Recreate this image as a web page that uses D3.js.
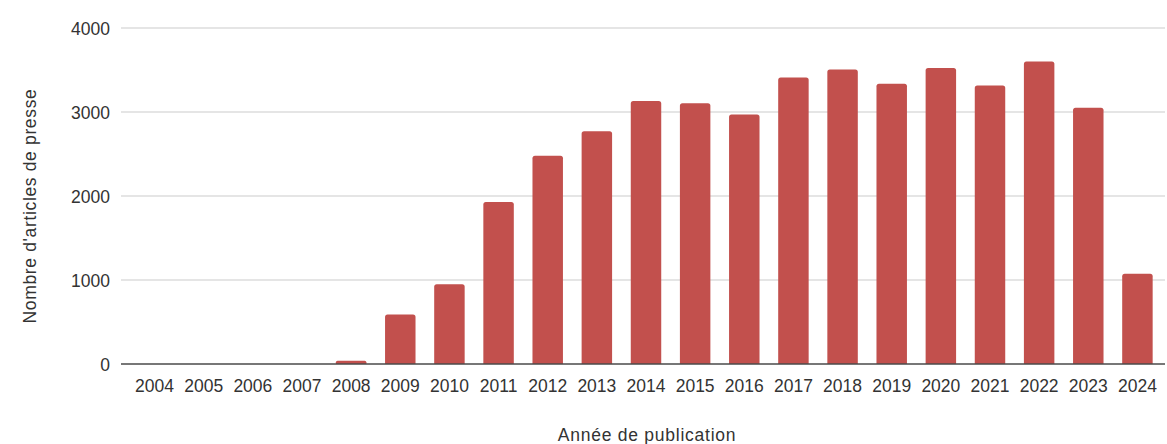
<!DOCTYPE html>
<html>
<head>
<meta charset="utf-8">
<script src="https://cdn.jsdelivr.net/npm/d3@7"></script>
<style>
  html, body { margin: 0; padding: 0; background: #fff; }
  svg { display: block; font-family: "Liberation Sans", Arial, sans-serif; }
</style>
</head>
<body>
<svg id="chart" width="1167" height="444"></svg>
<script>
// Press articles per publication year
const years = ["2004","2005","2006","2007","2008","2009","2010","2011","2012","2013","2014",
               "2015","2016","2017","2018","2019","2020","2021","2022","2023","2024"];
const articles = [0, 0, 0, 0, 40, 590, 950, 1930, 2480, 2770, 3130,
                  3105, 2970, 3410, 3505, 3335, 3525, 3315, 3600, 3050, 1075];
const yTicks = [0, 1000, 2000, 3000, 4000];

const svg = d3.select("#chart");
const W = 1167;
const fontSize = 17.5;
const textColor = "#333";

const x = d3.scaleBand().domain(years).range([130, 1162]).paddingInner(0.38).paddingOuter(0.19);
const y = d3.scaleLinear().domain([0, 4000]).range([364, 28]);

// horizontal grid
svg.append("g")
  .selectAll("line")
  .data(yTicks.filter(d => d > 0))
  .join("line")
  .attr("x1", 121).attr("x2", W - 2)
  .attr("y1", d => y(d)).attr("y2", d => y(d))
  .attr("stroke", "#dcdcdc").attr("stroke-width", 1.6);

// y tick labels
const yAxis = d3.axisLeft(y).tickValues(yTicks).tickSize(0).tickPadding(0).tickFormat(d3.format("d"));
const gy = svg.append("g").attr("transform", "translate(110,0)").call(yAxis);
gy.select(".domain").remove();
gy.selectAll("text").attr("font-size", fontSize).attr("fill", textColor).attr("dy", "0.36em")
  .attr("font-family", "'Liberation Sans', Arial, sans-serif");

// bars with softly rounded tops
const r = 2.5;
svg.append("g")
  .selectAll("path")
  .data(years.map((yr, i) => ({ yr, v: articles[i] })).filter(d => d.v > 0))
  .join("path")
  .attr("fill", "#c2504d")
  .attr("d", d => {
    const x0 = x(d.yr), w = x.bandwidth(), y0 = y(d.v), y1 = y(0);
    const rr = Math.min(r, (y1 - y0) / 2);
    return `M${x0},${y1}V${y0 + rr}Q${x0},${y0} ${x0 + rr},${y0}H${x0 + w - rr}Q${x0 + w},${y0} ${x0 + w},${y0 + rr}V${y1}Z`;
  });

// baseline
svg.append("line")
  .attr("x1", 121).attr("x2", W - 2)
  .attr("y1", y(0)).attr("y2", y(0))
  .attr("stroke", "#4a4a4a").attr("stroke-width", 1.4);

// x tick labels
const xAxis = d3.axisBottom(x).tickSize(0).tickPadding(0);
const gx = svg.append("g").attr("transform", `translate(0,${y(0)})`).call(xAxis);
gx.select(".domain").remove();
gx.selectAll("text").attr("font-size", fontSize).attr("fill", textColor).attr("dy", null).attr("y", 28)
  .attr("font-family", "'Liberation Sans', Arial, sans-serif");

// axis titles
svg.append("text")
  .attr("x", 647).attr("y", 441)
  .attr("text-anchor", "middle")
  .attr("font-size", fontSize).attr("fill", textColor)
  .attr("letter-spacing", 0.75)
  .text("Année de publication");

svg.append("text")
  .attr("transform", "translate(36,206) rotate(-90)")
  .attr("text-anchor", "middle")
  .attr("font-size", fontSize).attr("fill", textColor)
  .attr("letter-spacing", 0.65)
  .text("Nombre d'articles de presse");
</script>
</body>
</html>
